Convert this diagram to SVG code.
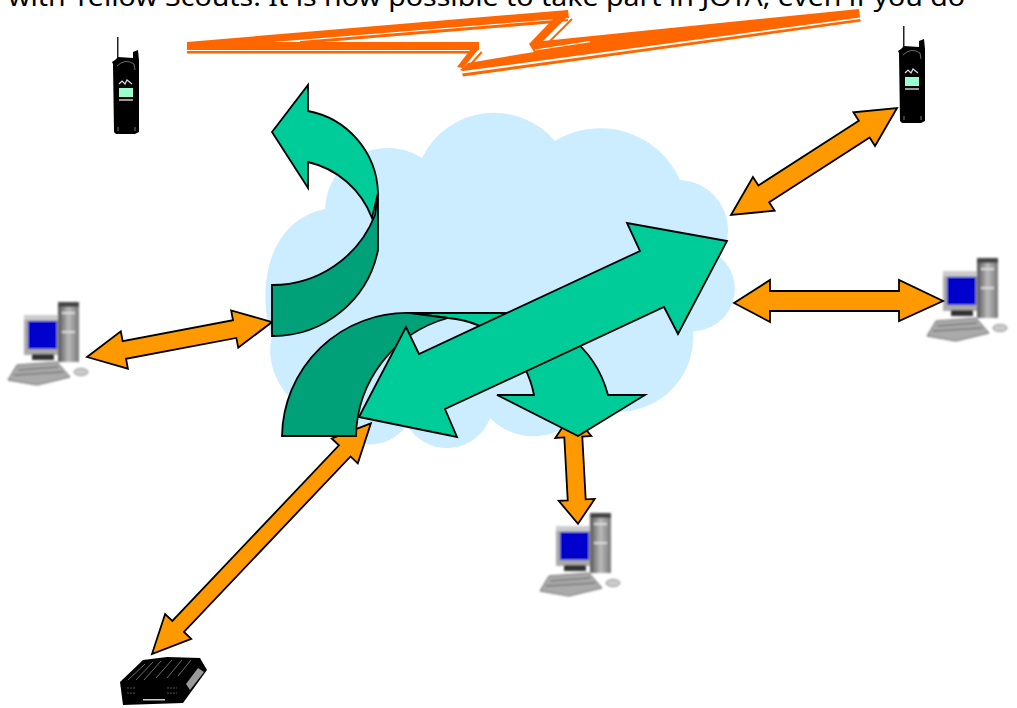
<svg xmlns="http://www.w3.org/2000/svg" width="1017" height="708" viewBox="0 0 1017 708">
<style>
.caption{font-family:"Noto Sans","Liberation Sans",sans-serif;font-size:25px;fill:#000}
.orange{fill:#FF9900;stroke:#000;stroke-width:1.8;stroke-linejoin:miter}
.green{fill:#00CC99;stroke:#000;stroke-width:1.8;stroke-linejoin:miter}
.dark{fill:#00A078;stroke:#000;stroke-width:1.8;stroke-linejoin:miter}
.bolt{fill:#FF6600}
.gap{stroke:#fff;stroke-width:1.2;fill:none}
.bolt-line{stroke:#FF6600;fill:none}
</style>
<defs>
<filter id="soft" x="-10%" y="-10%" width="120%" height="120%"><feGaussianBlur stdDeviation="0.9"/></filter>
<linearGradient id="tower" x1="0" x2="1" y1="0" y2="0"><stop offset="0" stop-color="#555"/><stop offset="0.5" stop-color="#bbb"/><stop offset="1" stop-color="#777"/></linearGradient>
<g id="computer" filter="url(#soft)">
<rect x="58" y="302" width="21" height="60" fill="url(#tower)"/>
<rect x="58" y="302" width="21" height="5" fill="#444"/>
<rect x="62" y="312" width="13" height="2" fill="#ddd"/>
<rect x="62" y="331" width="13" height="2" fill="#ddd"/>
<rect x="24" y="315" width="34" height="40" fill="#aaa"/>
<rect x="24" y="315" width="34" height="5" fill="#ccc"/>
<rect x="28" y="321" width="29" height="28" fill="#0000CC"/>
<rect x="32" y="354" width="22" height="6" fill="#333"/>
<polygon points="8,380 17,365 57,362 70,377 37,385" fill="#aaa" stroke="#666"/>
<path d="M18,370L58,367M14,375L63,372" stroke="#777" stroke-width="1.5" fill="none"/>
<ellipse cx="81" cy="372" rx="7" ry="3.500" fill="#ccc" stroke="#888"/>
</g>
<g id="phone">
<rect x="117" y="37" width="1.5" height="24" fill="#222"/>
<path d="M115,60 L118,57 L133,58 L133,52 L138,50 L139,60 L139,132 L135,134 L116,134 L114,132 L113,64 L112,62 Z" fill="#000"/>
<path d="M117,66 Q125,58 134,64 L135,70" stroke="#888" fill="none" stroke-width="0.8"/>
<path d="M119,84 L122,81 L125,84 L127,80 L132,84" stroke="#ddd" fill="none" stroke-width="1.2"/>
<rect x="119" y="88" width="14" height="9" fill="#99FFCC"/>
<rect x="119" y="99" width="14" height="2" fill="#999"/>
<path d="M118,127 L118,131 M135,127 L135,131" stroke="#777"/>
</g>
</defs>
<text class="caption" x="8" y="6" textLength="957" lengthAdjust="spacingAndGlyphs">with Yellow Scouts. It is now possible to take part in JOTA, even if you do</text>

<g id="cloud">
<path fill="#CCECFF" d="M422,158 A80,80 0 0 1 555,141 A87,87 0 0 1 680,180 A50,50 0 0 1 720,257 A42,42 0 0 1 693,331 A75,75 0 0 1 630,411 L578,416 A60,60 0 0 1 490,418 A46,46 0 0 1 407,425 A45,45 0 0 1 330,420 C295,415 262,375 272,336 C258,300 262,222 325,209 A63,63 0 0 1 422,158 Z"/>
</g>

<g id="lightning">
<polygon class="bolt" points="187,42 568,10 569,18 273,42 479,42 479,50 187,50"/>
<rect class="bolt" x="187" y="51" width="285" height="2.5"/>
<line class="bolt-line" x1="300" y1="42.500" x2="555" y2="21.500" stroke-width="3"/>
<line class="bolt-line" x1="555" y1="21.500" x2="568" y2="20" stroke-width="2"/>
<polygon class="bolt" points="470,50 478,50 463,68 457,67"/>
<line class="bolt-line" x1="481.700" y1="52" x2="471" y2="64" stroke-width="2"/>
<polygon class="bolt" points="553,19 568,16 543,41 859,9 860,17.500 463,71 460,70 468,63 534,52 529,44"/>
<polygon class="bolt" points="462,73.500 860,19 861,21.500 463,76.500"/>
<line class="bolt-line" x1="572" y1="19" x2="550" y2="41" stroke-width="2"/>
<line class="gap" x1="535" y1="50" x2="590" y2="41.600"/>
</g>

<g id="phone-left"><use href="#phone"/></g>
<g id="phone-right"><use href="#phone" x="786" y="-11"/></g>
<g id="computer-left"><use href="#computer"/></g>
<g id="computer-right"><use href="#computer" x="919" y="-44"/></g>
<g id="computer-bottom"><use href="#computer" x="532" y="211"/></g>
<g id="modem">
<polygon points="120,682 143,660 167,657 200,658 207,670 183,703 123,705" fill="#000"/>
<path d="M145,664 L128,680 M153,662 L136,680 M161,661 L144,680 M172,660 L156,678 M182,660 L167,678 M191,660 L178,676" stroke="#888" stroke-width="0.8"/>
<polygon points="186,684 198,668 204,672 190,690" fill="#999"/>
<rect x="143" y="699" width="22" height="1.5" fill="#ccc"/>
<path d="M127,688 h8 M127,693 h8 M167,688 h10 M167,693 h10" stroke="#555" stroke-dasharray="2 1"/>
</g>

<g id="connectors">
<polygon class="orange" transform="translate(731,215) rotate(-32.8)" points="0,0 39,-20 39,-10 158.500,-10 158.500,-20 197.500,0 158.500,20 158.500,10 39,10 39,20"/>
<polygon class="orange" points="734,303 770,280 770,291 899,291 899,280 943,301 899,321 899,311 770,311 770,322"/>
<polygon class="orange" transform="translate(87,357) rotate(-10.7)" points="0,0 38,-19 38,-9 150.300,-9 150.300,-19 188.300,0 150.300,19 150.300,9 38,9 38,19"/>
<polygon class="orange" transform="translate(152,654) rotate(-46.5)" points="0,0 38,-18 38,-8 280,-8 280,-18 318,0 280,18 280,8 38,8 38,18"/>
<polygon class="orange" transform="translate(572,413) rotate(86.9)" points="0,0 24,-18 24,-9 87,-9 87,-18 111,0 87,18 87,9 24,9 24,18"/>
</g>

<g id="flows">
<path class="green" d="M272,132 L308,85 L308,111 A86,86 0 0 1 378,193 L372,218 A90,90 0 0 0 308,162 L308,188 Z"/>
<path class="dark" d="M272,285 A110,110 0 0 0 375,215 L378,193 L378,250 A107,107 0 0 1 272,336 Z"/>
<path class="green" d="M410,313 L500,313 A110,110 0 0 1 608,395 L645,395 L578,436 L497,395 L534,395 A95,95 0 0 0 448,318 Z"/>
<path class="dark" d="M282,436 A125,125 0 0 1 410,313 L448,318 A125,125 0 0 0 356,436 Z"/>
<polygon class="green" points="359,417 406,327 419,354 640,251 627,223 727,241 678,334 664,307 445,409 457,437"/>
</g>
</svg>
